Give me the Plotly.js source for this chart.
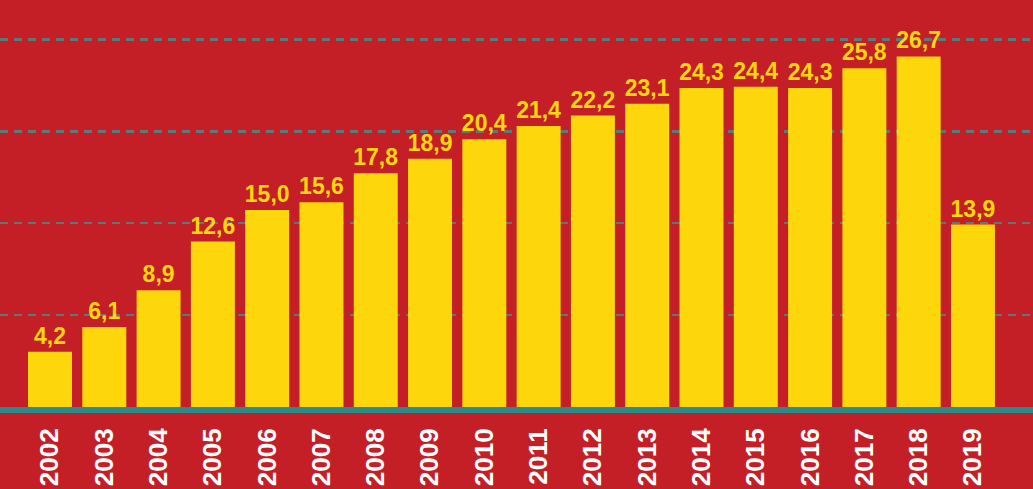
<!DOCTYPE html>
<html>
<head>
<meta charset="utf-8">
<script src="https://cdn.plot.ly/plotly-3.0.1.min.js"></script>
<style>
html,body{margin:0;padding:0;background:#C41F27;}
#chart{width:1033px;height:489px;}
</style>
</head>
<body>
<div id="chart"></div>
<script>
const years = ['2002','2003','2004','2005','2006','2007','2008','2009','2010','2011','2012','2013','2014','2015','2016','2017','2018','2019'];
const values = [4.2, 6.1, 8.9, 12.6, 15.0, 15.6, 17.8, 18.9, 20.4, 21.4, 22.2, 23.1, 24.3, 24.4, 24.3, 25.8, 26.7, 13.9];
const valueLabels = ['4,2','6,1','8,9','12,6','15,0','15,6','17,8','18,9','20,4','21,4','22,2','23,1','24,3','24,4','24,3','25,8','26,7','13,9'];
const gridTicks = [7, 14, 21, 28];

const RED = '#C41F27';
const YELLOW = '#FDD70B';
const FONT = 'Liberation Sans, Arial, sans-serif';

const trace = {
  type: 'bar',
  x: years,
  y: values,
  width: 0.81,
  text: valueLabels,
  texttemplate: '<b>%{text}</b>',
  textposition: 'outside',
  constraintext: 'none',
  cliponaxis: false,
  outsidetextfont: {family: FONT, size: 23, color: YELLOW},
  marker: {color: YELLOW, line: {width: 0}},
  hoverinfo: 'skip'
};

const layout = {
  width: 1033,
  height: 489,
  margin: {l: 0, r: 0, t: 0, b: 82, pad: 0},
  paper_bgcolor: RED,
  plot_bgcolor: RED,
  showlegend: false,
  xaxis: {
    type: 'category',
    range: [-0.921, 18.106],
    tickangle: -90,
    showgrid: false,
    zeroline: false,
    showline: true,
    linecolor: '#2B8A8A',
    linewidth: 6,
    ticks: '',
    ticklabelstandoff: 5,
    tickfont: {family: FONT, size: 26, color: '#FFFFFF', weight: 'bold'},
    fixedrange: true
  },
  yaxis: {
    range: [0, 31],
    tickvals: gridTicks,
    showticklabels: false,
    showgrid: true,
    gridcolor: '#5B7A7C',
    gridwidth: 2.5,
    griddash: '8px,6px',
    zeroline: false,
    showline: false,
    ticks: '',
    fixedrange: true
  }
};

Plotly.newPlot('chart', [trace], layout, {displayModeBar: false, staticPlot: true});
</script>
</body>
</html>
